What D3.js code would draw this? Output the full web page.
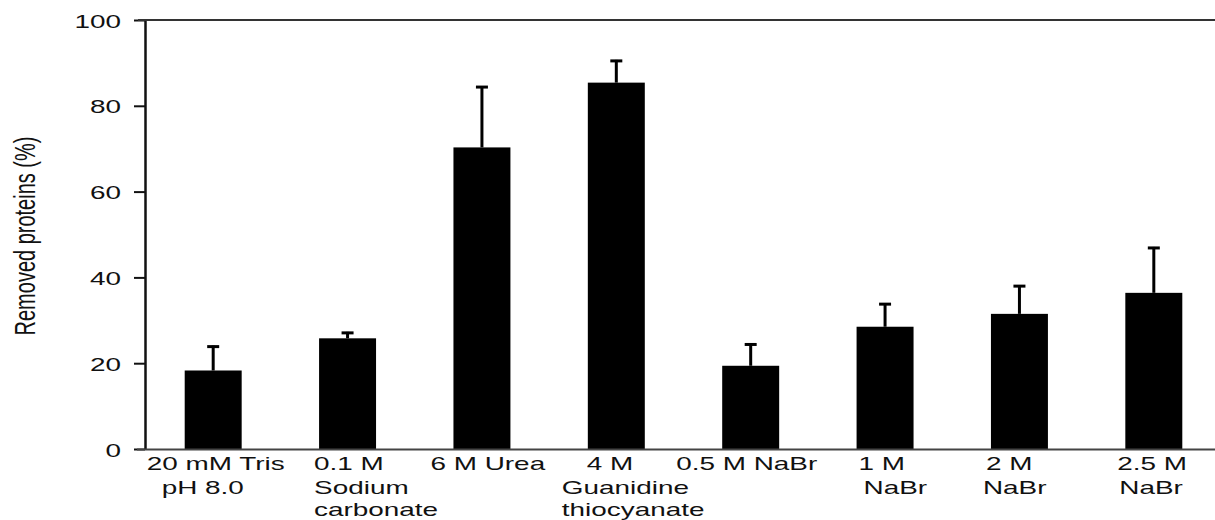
<!DOCTYPE html>
<html>
<head>
<meta charset="utf-8">
<script src="https://cdn.jsdelivr.net/npm/d3@7"></script>
<style>
  html, body { margin: 0; padding: 0; background: #fff; }
  svg { display: block; }
  text { font-family: "Liberation Sans", Arial, sans-serif; fill: #111; }
</style>
</head>
<body>
<div id="chart"></div>
<script>
// values
const categories = ["tris", "carbonate", "urea", "guanidine", "nabr05", "nabr1", "nabr2", "nabr25"];
const labelLines = [
    ["20 mM Tris", "pH 8.0"],
    ["0.1 M", "Sodium", "carbonate"],
    ["6 M Urea"],
    ["4 M", "Guanidine", "thiocyanate"],
    ["0.5 M NaBr"],
    ["1 M", "NaBr"],
    ["2 M", "NaBr"],
    ["2.5 M", "NaBr"]
];
const removed = [18.3, 25.8, 70.3, 85.4, 19.4, 28.5, 31.5, 36.4];
const sd = [5.8, 1.5, 14.3, 5.3, 5.2, 5.5, 6.7, 10.7];
const yTicks = [0, 20, 40, 60, 80, 100];
const yLabel = "Removed proteins (%)";

// where each label line starts, relative to the bar's left edge
const labelDx = [[-38, -23], [-5, -5, -5], [-23], [-1, -26, -26], [-46], [2, 7], [-5, -8], [-8, -6]];

const W = 1215, H = 520;
const stretch = 1.55; // the original text is drawn wide

const svg = d3.select("#chart")
    .append("svg")
    .attr("width", W)
    .attr("height", H);

const x = d3.scaleBand()
    .domain(categories)
    .range([146, 1221])
    .paddingInner(0.576)
    .paddingOuter(0.288);

const y = d3.scaleLinear()
    .domain([0, 100])
    .range([449, 20]);

const axisX = 145;

// bars
svg.append("g")
    .selectAll("rect")
    .data(categories)
    .join("rect")
    .attr("x", d => x(d))
    .attr("y", (d, i) => y(removed[i]))
    .attr("width", x.bandwidth())
    .attr("height", (d, i) => y(0) - y(removed[i]))
    .attr("fill", "#000");

// error bars (upper only)
const err = svg.append("g")
    .attr("stroke", "#000")
    .attr("stroke-width", 3);

err.selectAll(".stem")
    .data(categories)
    .join("line")
    .attr("class", "stem")
    .attr("x1", d => x(d) + x.bandwidth() / 2)
    .attr("x2", d => x(d) + x.bandwidth() / 2)
    .attr("y1", (d, i) => y(removed[i]))
    .attr("y2", (d, i) => y(removed[i] + sd[i]));

err.selectAll(".cap")
    .data(categories)
    .join("line")
    .attr("class", "cap")
    .attr("x1", d => x(d) + x.bandwidth() / 2 - 6)
    .attr("x2", d => x(d) + x.bandwidth() / 2 + 6)
    .attr("y1", (d, i) => y(removed[i] + sd[i]) + 1)
    .attr("y2", (d, i) => y(removed[i] + sd[i]) + 1);

// y axis
const yAxis = svg.append("g")
    .attr("transform", `translate(${axisX},0)`)
    .call(d3.axisLeft(y).tickValues(yTicks).tickSize(11).tickSizeOuter(0));

yAxis.select(".domain").attr("stroke", "#111").attr("stroke-width", 2.5);
yAxis.selectAll(".tick line").attr("stroke", "#111").attr("stroke-width", 2);
yAxis.selectAll(".tick text")
    .attr("x", null)
    .attr("dy", null)
    .attr("dominant-baseline", "central")
    .attr("transform", `translate(-24,1) scale(${stretch},1)`)
    .style("font-size", "18px")
    .style("font-family", "'Liberation Sans', Arial, sans-serif")
    .attr("fill", "#111");

// top frame line and baseline
svg.append("line")
    .attr("x1", axisX - 7).attr("x2", W)
    .attr("y1", y(100)).attr("y2", y(100))
    .attr("stroke", "#333").attr("stroke-width", 2);

svg.append("line")
    .attr("x1", axisX - 8).attr("x2", W)
    .attr("y1", y(0) + 0.5).attr("y2", y(0) + 0.5)
    .attr("stroke", "#444").attr("stroke-width", 2);

// category labels
const baselines = [470, 494, 516];
const lab = svg.append("g");
categories.forEach((c, i) => {
    labelLines[i].forEach((t, j) => {
        lab.append("text")
            .attr("transform", `translate(${x(c) + labelDx[i][j]},${baselines[j]}) scale(${stretch},1)`)
            .style("font-size", "18px")
            .text(t);
    });
});

// y axis title
svg.append("text")
    .attr("transform", `translate(35,236) scale(1.5,1) rotate(-90)`)
    .attr("text-anchor", "middle")
    .style("font-size", "20px")
    .text(yLabel);
</script>
</body>
</html>
